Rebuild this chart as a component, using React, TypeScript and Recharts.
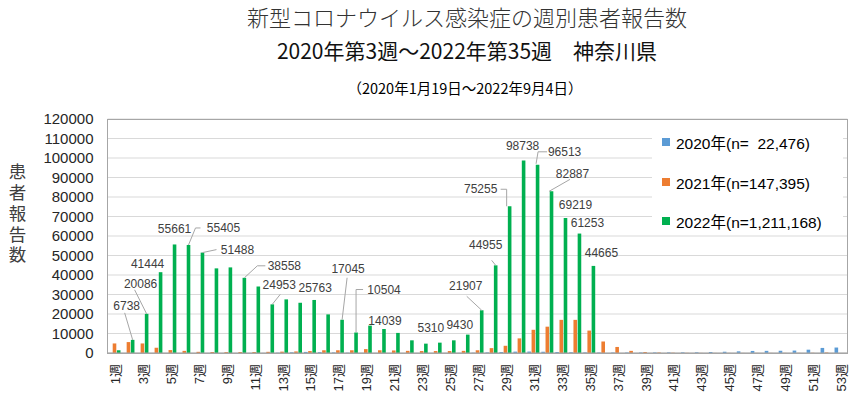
import { BarChart, Bar, XAxis, YAxis, CartesianGrid, LabelList } from "recharts";

const weeks = Array.from({ length: 53 }, (_, i) => `${i + 1}週`);

// 2020年 (starts at week 3)
const cases2020 = [
  null, null, 1, 0, 3, 5, 10, 20, 15, 20, 30, 40, 150, 350, 550, 450, 300, 150, 60, 30,
  15, 10, 20, 20, 40, 70, 150, 300, 500, 700, 750, 650, 500, 400, 300, 250, 250, 230, 250, 280,
  300, 320, 350, 500, 650, 850, 1050, 1100, 1150, 1250, 1700, 2600, 2800,
];

// 2021年 (52 weeks)
const cases2021 = [
  4900, 5600, 4900, 2700, 1500, 1100, 600, 500, 450, 500, 500, 600, 700, 800, 1000, 1400, 1400, 1400, 2000, 1400,
  1300, 1100, 1000, 1000, 1000, 1100, 1400, 2500, 3700, 7500, 11900, 13500, 17000, 17000, 11500, 5900, 3100, 1100, 500, 250,
  150, 80, 50, 40, 40, 40, 50, 50, 60, 60, 100, 250, null,
];

// 2022年 (up to week 35)
const cases2022 = [
  1400, 6738, 20086, 41444, 55661, 55405, 51488, 43400, 43900, 38558, 34100, 24953, 27500, 25763, 27200, 19800, 17045, 10504, 14039, 12300,
  10300, 6500, 4800, 5310, 6500, 9430, 21907, 44955, 75255, 98738, 96513, 82887, 69219, 61253, 44665,
  null, null, null, null, null, null, null, null, null, null, null, null, null, null, null, null, null, null,
];

const yTicks = [0, 10000, 20000, 30000, 40000, 50000, 60000, 70000, 80000, 90000, 100000, 110000, 120000];

const legendItems = [
  { label: "2020年(n=  22,476)", color: "#5B9BD5" },
  { label: "2021年(n=147,395)", color: "#ED7D31" },
  { label: "2022年(n=1,211,168)", color: "#00B050" },
];

const rows = weeks.map((week, i) => ({
  week,
  y2020: cases2020[i],
  y2021: cases2021[i],
  y2022: cases2022[i],
}));

// data label placement (by week number) relative to bar top, with optional leader line
const callouts: Record<number, { dx: number; dy: number; leader?: number[][] }> = {
  2: { dx: -6, dy: -34, leader: [[-8, -27], [0, 0]] },
  3: { dx: -6, dy: -30, leader: [[-12, -24], [0, 0]] },
  4: { dx: -13, dy: -8 },
  5: { dx: 0, dy: -16 },
  6: { dx: 35, dy: -17, leader: [[12, -17], [7, -17], [0, 0]] },
  7: { dx: 35, dy: -3, leader: [[14, -3], [0, 0]] },
  10: { dx: 40, dy: -12, leader: [[21, -12], [13, -12], [0, 0]] },
  12: { dx: 7, dy: -20, leader: [[8, -10], [0, 0]] },
  14: { dx: 15, dy: -15 },
  17: { dx: 6, dy: -51, leader: [[5, -42], [0, 0]] },
  18: { dx: 28, dy: -43, leader: [[7, -43], [0, -43], [0, 0]] },
  19: { dx: 15, dy: -5 },
  24: { dx: -9, dy: -15 },
  26: { dx: -8, dy: -10 },
  27: { dx: -16, dy: -24, leader: [[-15, -14], [0, 0]] },
  28: { dx: -10, dy: -21, leader: [[-4, -5], [0, 0]] },
  29: { dx: -29, dy: -17, leader: [[-9, -17], [-3, -17], [-3, 0]] },
  30: { dx: -1, dy: -15 },
  31: { dx: 27, dy: -13, leader: [[9.5, -13], [0.5, -13], [-1.5, -1]] },
  32: { dx: 21, dy: -18, leader: [[18.5, -12], [-2.5, 0]] },
  33: { dx: 10, dy: -13 },
  34: { dx: 8, dy: -11 },
  35: { dx: 8, dy: -13 },
};

const GreenLabel = (props: any) => {
  const { x, y, width, value } = props;
  if (value == null) return null;
  const wk = cases2022.indexOf(value) + 1;
  const c = callouts[wk];
  if (!c) return null;
  const bx = Number(x) + Number(width) / 2;
  const by = Number(y);
  return (
    <g>
      {c.leader && (
        <polyline
          points={c.leader.map(([px, py]) => `${bx + px},${by + py}`).join(" ")}
          fill="none"
          stroke="#a6a6a6"
          strokeWidth={1}
        />
      )}
      <text
        x={bx + c.dx}
        y={by + c.dy + 4.2}
        textAnchor="middle"
        fontSize={12}
        fontFamily="'Liberation Sans', Arial, sans-serif"
        fill="#404040"
      >
        {value}
      </text>
    </g>
  );
};

const XTick = (props: any) => {
  const { x, y, payload } = props;
  const tx = x + 5.5;
  const ty = y + 9;
  return (
    <text
      x={tx}
      y={ty}
      transform={`rotate(-90 ${tx} ${ty})`}
      textAnchor="end"
      fontSize={13}
      fontFamily="'Liberation Sans', 'Noto Sans CJK JP', sans-serif"
      fill="#262626"
    >
      {payload.value}
    </text>
  );
};

const cjk = "'Noto Sans CJK JP', 'Noto Sans', sans-serif";

export default function App() {
  return (
    <div style={{ position: "absolute", left: 0, top: 0, width: 852, height: 395, background: "#fff", overflow: "hidden" }}>
      <div style={{ position: "absolute", left: 467, top: 5, transform: "translateX(-50%)", whiteSpace: "nowrap", fontFamily: cjk, fontSize: 22, lineHeight: "22px", fontWeight: 300, color: "#333" }}>
        新型コロナウイルス感染症の週別患者報告数
      </div>
      <div style={{ position: "absolute", left: 467, top: 39, transform: "translateX(-50%)", whiteSpace: "pre", fontFamily: cjk, fontSize: 21, lineHeight: "22px", color: "#111" }}>
        2020年第3週～2022年第35週　神奈川県
      </div>
      <div style={{ position: "absolute", left: 465, top: 80, transform: "translateX(-50%)", whiteSpace: "nowrap", fontFamily: cjk, fontSize: 14.5, lineHeight: "16px", color: "#000" }}>
        （2020年1月19日～2022年9月4日）
      </div>
      <div style={{ position: "absolute", left: 7, top: 162.5, width: 20, writingMode: "vertical-rl", fontFamily: cjk, fontSize: 17.5, lineHeight: "20px", letterSpacing: 3.25, color: "#404040" }}>
        患者報告数
      </div>

      <div style={{ position: "absolute", left: 0, top: 0 }}>
        <BarChart
          width={852}
          height={395}
          data={rows}
          margin={{ top: 119, right: 4.5, bottom: 0, left: 47.5 }}
          barSize={3.6}
          barGap={0.6}
        >
          <CartesianGrid vertical={false} stroke="#d9d9d9" />
          <XAxis
            dataKey="week"
            interval={1}
            height={42}
            tickLine={false}
            tickSize={0}
            axisLine={{ stroke: "#a6a6a6" }}
            tick={<XTick />}
          />
          <YAxis
            width={60}
            domain={[0, 120000]}
            ticks={yTicks}
            interval={0}
            tickLine={false}
            axisLine={false}
            tickSize={0}
            tickMargin={14}
            tick={{ fontSize: 15, fill: "#262626", fontFamily: "'Liberation Sans', Arial, sans-serif" }}
          />
          <Bar dataKey="y2020" fill="#5B9BD5" isAnimationActive={false} />
          <Bar dataKey="y2021" fill="#ED7D31" isAnimationActive={false} />
          <Bar dataKey="y2022" fill="#00B050" isAnimationActive={false}>
            <LabelList dataKey="y2022" content={<GreenLabel />} />
          </Bar>
        </BarChart>
      </div>

      <div style={{ position: "absolute", left: 652, top: 123, width: 191, height: 108, background: "#fff" }}>
        {legendItems.map((item, i) => (
          <div key={item.label} style={{ position: "absolute", left: 10, top: 10 + i * 39.5, height: 18, display: "flex", alignItems: "center" }}>
            <div style={{ width: 8, height: 8, background: item.color, marginRight: 6 }} />
            <span style={{ whiteSpace: "pre", fontFamily: "'Liberation Sans', 'Noto Sans CJK JP', sans-serif", fontSize: 15.5, color: "#000" }}>
              {item.label}
            </span>
          </div>
        ))}
      </div>

      <div style={{ position: "absolute", left: 107, top: 118.5, width: 741, height: 235, border: "1px solid #a6a6a6", boxSizing: "border-box", pointerEvents: "none" }} />
    </div>
  );
}
